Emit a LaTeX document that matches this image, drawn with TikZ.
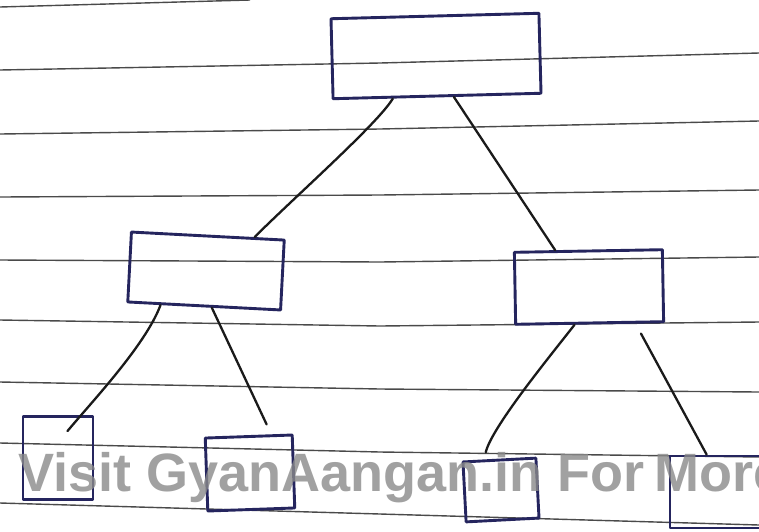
\documentclass[tikz,border=0pt]{standalone}
\usepackage{fontspec}
\setmainfont{Liberation Sans}
\usetikzlibrary{calc}
\definecolor{ink}{HTML}{25255E}
\definecolor{pen}{HTML}{1A1A1A}
\definecolor{rulegray}{HTML}{4A4A4A}
\definecolor{wm}{HTML}{8A8A8A}
\begin{document}
\begin{tikzpicture}[x=1pt,y=-1pt,
  treebox/.style={draw=ink, line width=2.9pt, rectangle, inner sep=0pt, line join=round},
  link/.style={draw=pen, line width=2.3pt, line cap=round},
  paperline/.style={draw=rulegray, line width=1.4pt},
  watermark/.style={text=wm, text opacity=0.8, font=\bfseries\fontsize{54}{60}\selectfont, inner sep=0pt, anchor=base west}]
\useasboundingbox (0,0) rectangle (759,531);
\clip (0,0) rectangle (759,531);
\fill[white] (0,0) rectangle (759,531);
% ruled paper lines
\draw[paperline] (0,7) -- (250,0);
\draw[paperline] (0,70) -- (380,63) -- (759,53);
\draw[paperline] (0,134) -- (380,129) -- (759,121);
\draw[paperline] (0,197) -- (380,195) -- (759,190);
\draw[paperline] (0,260) -- (380,262) -- (759,257);
\draw[paperline] (0,320) -- (380,326) -- (759,322);
\draw[paperline] (0,382) -- (380,389) -- (759,392);
\draw[paperline] (0,443) -- (380,452) -- (759,457);
\draw[paperline] (0,503) -- (380,514) -- (759,525);
% boxes
\node[treebox, minimum width=208pt, minimum height=80pt, rotate=1.5] (top) at (436,56) {};
\node[treebox, minimum width=153pt, minimum height=70pt, rotate=-3] (lm) at (206,271) {};
\node[treebox, minimum width=148pt, minimum height=72pt, rotate=1] (rm) at (589,287) {};
\node[treebox, minimum width=70pt, minimum height=83pt] (bl) at (58,458) {};
\node[treebox, minimum width=87pt, minimum height=73pt, rotate=2] (bm) at (250,473) {};
\node[treebox, minimum width=73pt, minimum height=60pt, rotate=3] (brm) at (501,490) {};
\node[treebox, minimum width=100pt, minimum height=72pt] (br) at (720,492) {};
% connectors
\draw[link] ($(top.south west)!0.29!(top.south east)$) .. controls +(-15,25) and +(40,-40) .. ($(lm.north west)!0.80!(lm.north east)$);
\draw[link] ($(top.south west)!0.58!(top.south east)$) -- ($(rm.north west)!0.28!(rm.north east)$);
\draw[link] ($(lm.south west)!0.22!(lm.south east)$) .. controls +(-15,40) and +(25,-30) .. ($(bl.north west)!0.63!(bl.north east)+(0,16)$);
\draw[link] ($(lm.south west)!0.55!(lm.south east)$) -- ($(bm.north west)!0.70!(bm.north east)+(0,-10)$);
\draw[link] ($(rm.south west)!0.40!(rm.south east)$) .. controls +(-25,32) and +(6,-25) .. ($(brm.north west)!0.32!(brm.north east)+(0,-7)$);
\draw[link] ($(rm.south west)!0.84!(rm.south east)+(0,10)$) -- ($(br.north west)!0.37!(br.north east)$);
% watermark
\node[watermark] (wmtext) at (18,491) {Visit GyanAangan.in For\hspace{10pt}More};
\end{tikzpicture}
\end{document}
